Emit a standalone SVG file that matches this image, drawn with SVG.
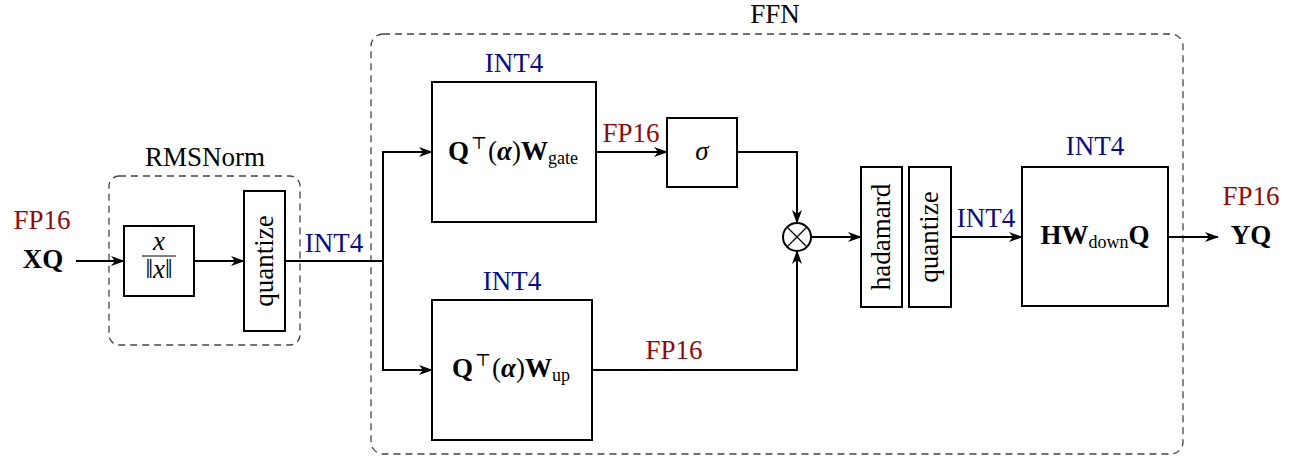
<svg xmlns="http://www.w3.org/2000/svg" width="1293" height="472" viewBox="0 0 1293 472" font-family="Liberation Serif">
<defs>
<marker id="arr" viewBox="0 0 14 10" refX="13" refY="5" markerWidth="14" markerHeight="10" markerUnits="userSpaceOnUse" orient="auto">
<path d="M0,0 L14,5 L0,10 L4,5 Z" fill="#000"/>
</marker>
<style>
text{font-size:27px;fill:#000}
.box{fill:#fff;stroke:#000;stroke-width:2}
.grp{fill:none;stroke:#444;stroke-width:1.3;stroke-dasharray:7 5}
.line{fill:none;stroke:#000;stroke-width:2}
.arr{fill:none;stroke:#000;stroke-width:2;marker-end:url(#arr)}
.blue{fill:#0a0a85}
.red{fill:#8a0c0c}
.b{font-weight:bold}
.sub{font-size:18px}
</style>
</defs>

<g id="rmsnorm-group">
<rect class="grp" x="109" y="176" width="191" height="169" rx="10"/>
<text x="205" y="166" text-anchor="middle" font-family="Liberation Serif">RMSNorm</text>
</g>
<g id="ffn-group">
<rect class="grp" x="371" y="34" width="812" height="420" rx="12"/>
<text x="775" y="23" text-anchor="middle" font-family="Liberation Serif">FFN</text>
</g>

<g id="input">
<text class="red" x="42" y="229" text-anchor="middle" font-family="Liberation Serif">FP16</text>
<text class="b" x="43" y="268" text-anchor="middle" font-size="28" font-family="Liberation Serif">XQ</text>
</g>

<g id="norm">
<rect class="box" x="124" y="226" width="70" height="70"/>
<text x="159" y="250" text-anchor="middle" font-size="17" font-style="italic" font-family="Liberation Serif">x</text>
<line x1="142" y1="256" x2="176" y2="256" stroke="#000" stroke-width="1"/>
<text x="159" y="278" text-anchor="middle" font-size="17" font-family="Liberation Serif">‖<tspan font-style="italic">x</tspan>‖</text>
</g>

<g id="quantize1">
<rect class="box" x="244" y="191" width="41" height="140"/>
<text transform="translate(264.5,261) rotate(-90)" x="0" y="8" text-anchor="middle" font-family="Liberation Serif">quantize</text>
</g>

<g id="gate">
<rect class="box" x="432" y="82" width="164" height="140"/>
<text class="blue" x="514" y="72" text-anchor="middle" font-family="Liberation Serif">INT4</text>
<text x="513" y="160" text-anchor="middle" font-size="28" font-family="Liberation Serif"><tspan class="b">Q</tspan><tspan font-size="17" dy="-11" dx="2" font-family="DejaVu Serif">⊤</tspan><tspan dy="11" dx="1">(</tspan><tspan class="b" font-style="italic">α</tspan><tspan>)</tspan><tspan class="b">W</tspan><tspan class="sub" dy="4">gate</tspan></text>
</g>

<g id="up">
<rect class="box" x="432" y="300" width="160" height="140"/>
<text class="blue" x="512" y="290" text-anchor="middle" font-family="Liberation Serif">INT4</text>
<text x="511" y="377" text-anchor="middle" font-size="28" font-family="Liberation Serif"><tspan class="b">Q</tspan><tspan font-size="17" dy="-11" dx="2" font-family="DejaVu Serif">⊤</tspan><tspan dy="11" dx="1">(</tspan><tspan class="b" font-style="italic">α</tspan><tspan>)</tspan><tspan class="b">W</tspan><tspan class="sub" dy="4">up</tspan></text>
</g>

<g id="sigma">
<rect class="box" x="667" y="118" width="70" height="69"/>
<text x="702" y="160" text-anchor="middle" font-style="italic" font-family="Liberation Serif">σ</text>
</g>

<g id="mult">
<circle cx="797" cy="237" r="14" fill="#fff" stroke="#000" stroke-width="2"/>
<path d="M787.5,227.5 L806.5,246.5 M806.5,227.5 L787.5,246.5" stroke="#000" stroke-width="1.2"/>
</g>

<g id="hadamard">
<rect class="box" x="861" y="167" width="41" height="140"/>
<text transform="translate(881.5,237) rotate(-90)" x="0" y="8" text-anchor="middle" font-family="Liberation Serif">hadamard</text>
</g>

<g id="quantize2">
<rect class="box" x="909" y="167" width="42" height="140"/>
<text transform="translate(930,237) rotate(-90)" x="0" y="8" text-anchor="middle" font-family="Liberation Serif">quantize</text>
</g>

<g id="down">
<rect class="box" x="1022" y="167" width="146" height="139"/>
<text class="blue" x="1095" y="155" text-anchor="middle" font-family="Liberation Serif">INT4</text>
<text x="1095" y="244" text-anchor="middle" font-size="28" font-family="Liberation Serif"><tspan class="b">HW</tspan><tspan class="sub" dy="4">down</tspan><tspan class="b" dy="-4">Q</tspan></text>
</g>

<g id="output">
<text class="red" x="1251" y="205" text-anchor="middle" font-family="Liberation Serif">FP16</text>
<text class="b" x="1251" y="244" text-anchor="middle" font-size="28" font-family="Liberation Serif">YQ</text>
</g>

<g id="connectors">
<line class="arr" x1="76" y1="261" x2="124" y2="261"/>
<line class="arr" x1="194" y1="261" x2="244" y2="261"/>
<line class="line" x1="285" y1="261" x2="383" y2="261"/>
<text class="blue" x="334" y="252" text-anchor="middle" font-family="Liberation Serif">INT4</text>
<line class="line" x1="383" y1="152" x2="383" y2="370"/>
<line class="arr" x1="382" y1="152" x2="432" y2="152"/>
<line class="arr" x1="382" y1="370" x2="432" y2="370"/>
<line class="arr" x1="596" y1="152" x2="667" y2="152"/>
<text class="red" x="631" y="142" text-anchor="middle" font-family="Liberation Serif">FP16</text>
<path class="arr" d="M737,152 H797 V223"/>
<path class="arr" d="M592,370 H797 V251"/>
<text class="red" x="674" y="359" text-anchor="middle" font-family="Liberation Serif">FP16</text>
<line class="arr" x1="811" y1="237" x2="861" y2="237"/>
<line class="arr" x1="951" y1="237" x2="1022" y2="237"/>
<text class="blue" x="986" y="227" text-anchor="middle" font-family="Liberation Serif">INT4</text>
<line class="arr" x1="1168" y1="237" x2="1218" y2="237"/>
</g>
</svg>
